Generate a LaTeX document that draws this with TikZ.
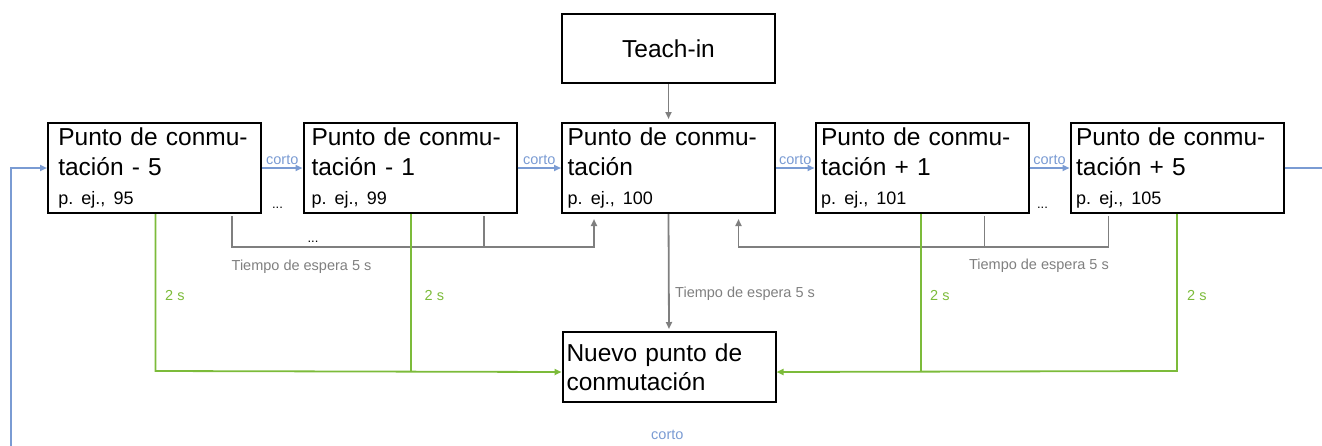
\documentclass[tikz,border=0pt]{standalone}
\usepackage{fontspec}
\setmainfont{Liberation Sans}
\usetikzlibrary{arrows.meta}
\definecolor{cblue}{HTML}{7A9BD3}
\definecolor{cgray}{HTML}{7F7F7F}
\definecolor{cgreen}{HTML}{7CBB3A}
\frenchspacing
\begin{document}
\frenchspacing
\begin{tikzpicture}[x=1pt,y=-1pt,
  box/.style={draw=black, line width=2pt, minimum width=213pt, minimum height=90pt,
    align=left, font=\fontsize{24.5}{30}\selectfont\frenchspacing},
  tip/.style={-{Triangle[length=7pt,width=6pt]}},
  bl/.style={draw=cblue, line width=1.8pt},
  gl/.style={draw=cgray, line width=1.8pt},
  gr/.style={draw=cgreen, line width=1.8pt},
  cl/.style={font=\fontsize{14.5}{16}\selectfont, text=cblue, above, inner sep=2.5pt},
  tl/.style={font=\fontsize{14.5}{16}\selectfont, text=cgray, inner sep=0pt},
  sl/.style={font=\fontsize{14.5}{16}\selectfont, text=cgreen, inner sep=0pt, anchor=base west},
  dl/.style={font=\fontsize{13}{15}\selectfont, inner sep=0pt, anchor=base},
]
\useasboundingbox (0,0) rectangle (1322,445);
\clip (0,0) rectangle (1322,445);

% boxes
\node[box, minimum height=69pt, align=center] (teach) at (668.5,48.8) {Teach-in};
\node[box, inner xsep=10.3pt, text width=192.4pt] (b1) at (154.5,168)
  {Punto de conmu-\\tación - 5\\[-1pt]{\fontsize{18}{21}\selectfont p. ej., 95}};
\node[box, inner xsep=8pt, text width=197pt] (b2) at (410,168)
  {Punto de conmu-\\tación - 1\\[-1pt]{\fontsize{18}{21}\selectfont p. ej., 99}};
\node[box, inner xsep=5.6pt, text width=201.8pt] (b3) at (668.5,168)
  {Punto de conmu-\\tación\\[-1pt]{\fontsize{18}{21}\selectfont p. ej., 100}};
\node[box, inner xsep=5.6pt, text width=201.8pt] (b4) at (922,168)
  {Punto de conmu-\\tación + 1\\[-1pt]{\fontsize{18}{21}\selectfont p. ej., 101}};
\node[box, inner xsep=5.6pt, text width=201.8pt] (b5) at (1177,168)
  {Punto de conmu-\\tación + 5\\[-1pt]{\fontsize{18}{21}\selectfont p. ej., 105}};
\node[box, minimum height=70pt, inner xsep=4pt, text width=205pt,
  font=\fontsize{24.5}{29}\selectfont] (nuevo) at (669,367)
  {Nuevo punto de\\conmutación};

% blue "corto" arrows
\draw[bl, tip] (b1.east) -- node[cl] {corto} (b2.west);
\draw[bl, tip] (b2.east) -- node[cl] {corto} (b3.west);
\draw[bl, tip] (b3.east) -- node[cl] {corto} (b4.west);
\draw[bl, tip] (b4.east) -- node[cl] {corto} (b5.west);
\draw[bl, tip] (b5.east) -- (1345,168) -- (1345,452)
  -- node[cl, pos=0.508, above=8.5pt] {corto} (11,452) -- (11,168) -- (b1.west);

% ellipses
\node[dl] (e1) at (277.5,208) {...};
\node[dl] (e2) at (313,242) {...};
\node[dl] (e3) at (1042.5,208) {...};

% gray connectors
\draw[gl, tip, shorten >=3pt] (teach.south) -- (b3.north);
\draw[gl, tip, shorten >=2pt] (b3.south) -- node[tl, right=5.5pt, pos=0.68] {Tiempo de espera 5 s} (nuevo.north);
\draw[gl, tip, shorten <=2pt, shorten >=5pt] ([xshift=-30pt]b1.south east) -- ++(0,33) -| ([xshift=33pt]b3.south west);
\draw[gl, shorten <=2pt] ([xshift=-33.5pt]b2.south east) -- ++(0,33);
\draw[gl, tip, shorten <=2pt, shorten >=5pt] ([xshift=39pt]b5.south west) -- ++(0,33) -| ([xshift=-37.5pt]b3.south east);
\draw[gl, shorten <=2pt] ([xshift=170pt]b4.south west) -- ++(0,33);
\node[tl, anchor=base west] (tw1) at (231.5,270) {Tiempo de espera 5 s};
\node[tl, anchor=base east] (tw2) at (1109,269) {Tiempo de espera 5 s};

% green connectors
\draw[gr, tip] ([xshift=1pt]b1.south) -- ++(0,157) -- ([yshift=-5pt]nuevo.west);
\draw[gr] ([xshift=1pt]b2.south) -- ++(0,157);
\draw[gr, tip] (b5.south) -- ++(0,157) -- ([yshift=-5pt]nuevo.east);
\draw[gr] ([xshift=-1pt]b4.south) -- ++(0,157);
\node[sl] (s1) at (165,300) {2 s};
\node[sl] (s2) at (424.5,300) {2 s};
\node[sl] (s3) at (930,300) {2 s};
\node[sl] (s4) at (1187,300) {2 s};
\end{tikzpicture}
\end{document}
